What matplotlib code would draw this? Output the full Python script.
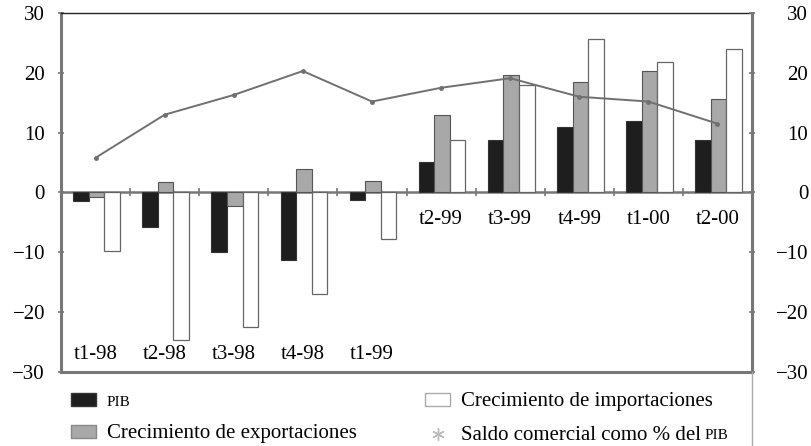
import numpy as np
import matplotlib
matplotlib.use('Agg')
from matplotlib import pyplot
from matplotlib.patches import Patch
from matplotlib.lines import Line2D

quarters = ['t1-98', 't2-98', 't3-98', 't4-98', 't1-99',
            't2-99', 't3-99', 't4-99', 't1-00', 't2-00']
pib = [-1.5, -5.8, -10.0, -11.2, -1.3, 5.1, 8.7, 11.0, 12.0, 8.8]
exportaciones = [-0.8, 1.7, -2.3, 4.0, 2.0, 13.0, 19.7, 18.5, 20.3, 15.7]
importaciones = [-9.7, -24.7, -22.5, -17.0, -7.8, 8.8, 18.0, 25.7, 21.8, 24.0]
saldo = [5.8, 13.0, 16.3, 20.3, 15.2, 17.5, 19.1, 16.0, 15.2, 11.5]

pyplot.rcParams['font.family'] = ['Liberation Serif', 'DejaVu Serif']
fs = 15

fig = pyplot.figure(figsize=(8.11, 4.46), dpi=100)
ax = fig.add_axes([0.0752, 0.1659, 0.8521, 0.805])

x = np.arange(len(quarters))
w = 0.225
ax.bar(x - w + 0.015, pib, w, color='#1e1e1e', edgecolor='#333333', linewidth=0.8, zorder=3)
ax.bar(x + 0.015, exportaciones, w, color='#a8a8a8', edgecolor='#555555', linewidth=0.8, zorder=3)
ax.bar(x + w + 0.015, importaciones, w, color='white', edgecolor='#666666', linewidth=0.9, zorder=3)
ax.plot(x, saldo, color='#707070', linewidth=1.4, marker='o', markersize=2.5, zorder=4)

ax.set_xlim(-0.5, len(quarters) - 0.5)
ax.set_ylim(-30, 30)
ax.set_yticks([-30, -20, -10, 0, 10, 20, 30])
ax.tick_params(axis='y', direction='inout', length=5, width=1.2, color='#777777',
               labelsize=fs, pad=9)

# zero line works as category axis
ax.spines['bottom'].set_position(('data', 0))
ax.spines['bottom'].set_color('#777777')
ax.spines['bottom'].set_linewidth(1.8)
ax.set_xticks(x[:-1] + 0.5)
ax.set_xticklabels([])
ax.tick_params(axis='x', direction='inout', length=6, width=1.2, color='#777777')
ax.axhline(-30, color='#777777', linewidth=2.2, zorder=5, clip_on=False)

ax.spines['left'].set_color('#777777')
ax.spines['left'].set_linewidth(2.2)
ax.spines['top'].set_color('#222222')
ax.spines['top'].set_linewidth(1.0)
ax.spines['right'].set_visible(False)

for i, q in enumerate(quarters):
    ypos = -27 if i < 5 else -4.5
    ax.text(i, ypos, q, ha='center', va='center', fontsize=fs, zorder=6)

ax2 = ax.twinx()
ax2.set_ylim(-30, 30)
ax2.set_yticks([-30, -20, -10, 0, 10, 20, 30])
for s in ['left', 'top', 'bottom']:
    ax2.spines[s].set_visible(False)
ax2.spines['right'].set_color('#777777')
ax2.spines['right'].set_linewidth(2.2)
ax2.tick_params(axis='y', direction='inout', length=5, width=1.2, color='#777777',
                labelsize=fs, pad=38)
for t in ax2.get_yticklabels():
    t.set_horizontalalignment('right')

# outer frame line below the plot on the right
fig.add_artist(Line2D([0.9273, 0.9273], [0.0, 0.1659], color='#aaaaaa', linewidth=1.0))

handles = [
    Patch(facecolor='#1e1e1e', edgecolor='#333333'),
    Patch(facecolor='#a8a8a8', edgecolor='#888888'),
    Patch(facecolor='white', edgecolor='#aaaaaa'),
    Line2D([], [], linestyle='none', marker=(6, 2, 0), markersize=9,
           color='#bbbbbb', markeredgewidth=1.0),
]
labels = ['PIB', 'Crecimiento de exportaciones', 'Crecimiento de importaciones',
          'Saldo comercial como % del']
leg = fig.legend(handles, labels, ncol=2, loc='upper left',
                 bbox_to_anchor=(0.088, 0.12), frameon=False, fontsize=fs,
                 handlelength=1.2, handleheight=0.6, handletextpad=0.5,
                 labelspacing=0.72, columnspacing=3.3, borderaxespad=0, borderpad=0)
texts = leg.get_texts()
texts[0].set_fontsize(11)

fig.canvas.draw()
bb = texts[3].get_window_extent()
x0, y0 = fig.transFigure.inverted().transform((bb.x1 + 4, bb.y0))
fig.text(x0, y0 + 0.007, 'PIB', fontsize=11, ha='left', va='bottom')

pyplot.savefig('out.png', dpi=100)
